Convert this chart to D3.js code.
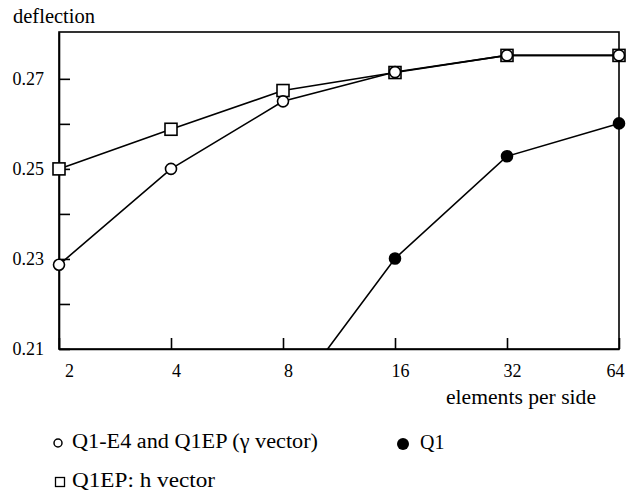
<!DOCTYPE html>
<html>
<head>
<meta charset="utf-8">
<script src="https://cdn.jsdelivr.net/npm/d3@7"></script>
<style>
  body { margin: 0; background: #fff; }
  svg { display: block; font-family: "Liberation Serif", "Times New Roman", serif; }
  .axis text { font-size: 18px; fill: #000; }
  .axis path, .axis line { stroke: #000; stroke-width: 1.6; }
</style>
</head>
<body>
<svg id="chart"></svg>
<script>
// elements per side (x) and deflection values (y)
var sides = [2, 4, 8, 16, 32, 64];
var gammaVector = [0.2287, 0.2500, 0.2650, 0.2715, 0.2752, 0.2752]; // Q1-E4 and Q1EP (gamma vector)
var hVector = [0.2500, 0.2588, 0.2674, 0.2714, 0.2752, 0.2752];     // Q1EP: h vector
var q1Sides = [8, 16, 32, 64];
var q1 = [0.1967, 0.2301, 0.2528, 0.2601];                           // Q1 (first point below the axis)
var yMajor = [0.21, 0.23, 0.25, 0.27];
var yMinor = [0.22, 0.24, 0.26];

var w = 626,
    h = 491;
var margin = { top: 32, right: 7, bottom: 142, left: 59 };

var svg = d3.select("#chart")
    .attr("width", w)
    .attr("height", h);

svg.append("rect").attr("width", w).attr("height", h).attr("fill", "#fff");

var x = d3.scaleLog().base(2)
    .domain([2, 64])
    .range([margin.left, w - margin.right]);

var y = d3.scaleLinear()
    .domain([0.21, 0.2804])
    .range([h - margin.bottom, margin.top]);

// frame
svg.append("rect")
    .attr("x", x(2))
    .attr("y", y(0.2804))
    .attr("width", x(64) - x(2))
    .attr("height", y(0.21) - y(0.2804))
    .attr("fill", "none")
    .attr("stroke", "#000")
    .attr("stroke-width", 1.6);

// y axis, ticks pointing inward
var yAxis = svg.append("g")
    .attr("class", "axis")
    .attr("transform", "translate(" + margin.left + ",0)")
    .call(d3.axisLeft(y)
        .tickValues(yMajor.concat(yMinor))
        .tickFormat(function (d) { return yMajor.indexOf(d) >= 0 ? d3.format(".2f")(d) : ""; })
        .tickSizeInner(-11)
        .tickSizeOuter(0)
        .tickPadding(15))
    .attr("font-family", null)
    .attr("font-size", null);

// x axis
var xAxis = svg.append("g")
    .attr("class", "axis")
    .attr("transform", "translate(0," + (h - margin.bottom) + ")")
    .call(d3.axisBottom(x)
        .tickValues(sides)
        .tickFormat(d3.format("d"))
        .tickSizeInner(-11)
        .tickSizeOuter(0)
        .tickPadding(15))
    .attr("font-family", null)
    .attr("font-size", null);

xAxis.selectAll(".tick text")
    .attr("dx", function (d) { return d === 2 ? 10 : (d === 64 ? -4 : 5); });

svg.append("text")
    .attr("x", 13)
    .attr("y", 23)
    .attr("font-size", 20)
    .attr("textLength", 82)
    .attr("lengthAdjust", "spacingAndGlyphs")
    .text("deflection");

svg.append("text")
    .attr("x", 446)
    .attr("y", 404)
    .attr("font-size", 20)
    .attr("textLength", 150)
    .attr("lengthAdjust", "spacingAndGlyphs")
    .text("elements per side");

svg.append("clipPath").attr("id", "plotClip")
    .append("rect")
    .attr("x", x(2) - 10).attr("y", y(0.2804) - 10)
    .attr("width", x(64) - x(2) + 20)
    .attr("height", y(0.21) - y(0.2804) + 10);

var line = d3.line()
    .x(function (d) { return x(d[0]); })
    .y(function (d) { return y(d[1]); });

var plot = svg.append("g").attr("clip-path", "url(#plotClip)");

function addSeries(xs, ys, marker) {
    var pts = d3.zip(xs, ys);
    plot.append("path")
        .datum(pts)
        .attr("d", line)
        .attr("fill", "none")
        .attr("stroke", "#000")
        .attr("stroke-width", 1.6);
    var shown = pts.filter(function (d) { return d[1] >= 0.21; });
    if (marker === "square") {
        plot.selectAll(null).data(shown).enter().append("rect")
            .attr("x", function (d) { return x(d[0]) - 6; })
            .attr("y", function (d) { return y(d[1]) - 6; })
            .attr("width", 12).attr("height", 12)
            .attr("fill", "#fff").attr("stroke", "#000").attr("stroke-width", 1.6);
    } else {
        plot.selectAll(null).data(shown).enter().append("circle")
            .attr("cx", function (d) { return x(d[0]); })
            .attr("cy", function (d) { return y(d[1]); })
            .attr("r", 5.5)
            .attr("fill", marker === "filled" ? "#000" : "#fff")
            .attr("stroke", "#000").attr("stroke-width", 1.6);
    }
}

addSeries(sides, hVector, "square");
addSeries(sides, gammaVector, "open");
addSeries(q1Sides, q1, "filled");

// legend
var legend = svg.append("g").attr("font-size", 20).attr("lengthAdjust", "spacingAndGlyphs");
legend.append("circle").attr("cx", 58).attr("cy", 443).attr("r", 4)
    .attr("fill", "#fff").attr("stroke", "#000").attr("stroke-width", 1.5);
legend.append("text").attr("x", 72).attr("y", 448)
    .attr("textLength", 246).attr("lengthAdjust", "spacingAndGlyphs")
    .text("Q1-E4 and Q1EP (γ vector)");
legend.append("circle").attr("cx", 403).attr("cy", 444).attr("r", 6).attr("fill", "#000");
legend.append("text").attr("x", 420).attr("y", 449).text("Q1");
legend.append("rect").attr("x", 55.5).attr("y", 477.5).attr("width", 9).attr("height", 9)
    .attr("fill", "#fff").attr("stroke", "#000").attr("stroke-width", 1.3);
legend.append("text").attr("x", 72).attr("y", 487)
    .attr("textLength", 143).attr("lengthAdjust", "spacingAndGlyphs")
    .text("Q1EP: h vector");
</script>
</body>
</html>
